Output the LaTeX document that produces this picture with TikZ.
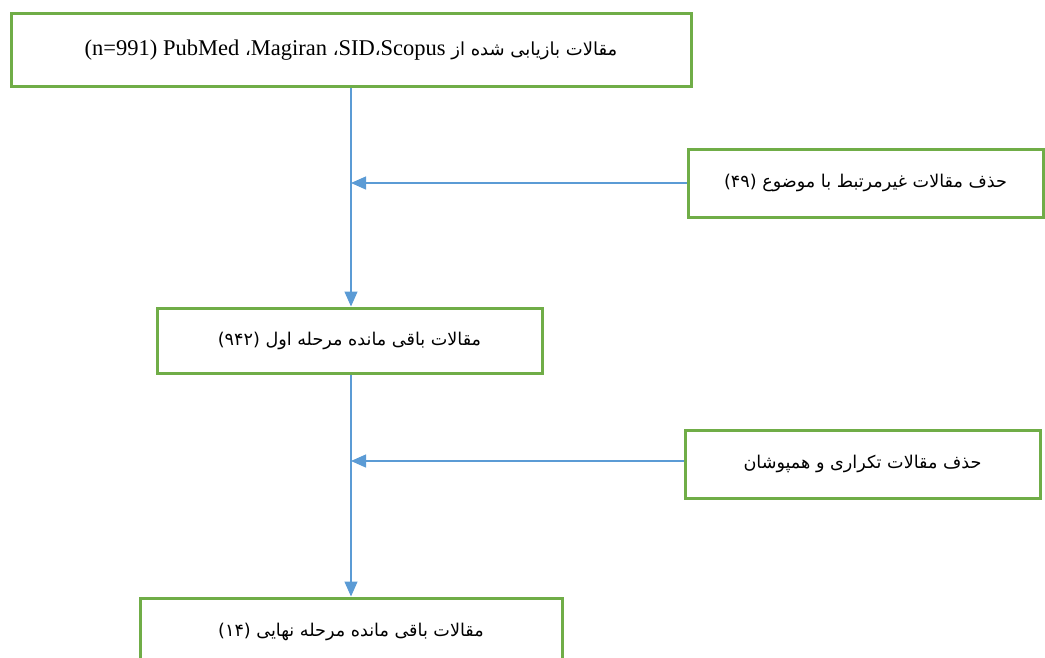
\documentclass[tikz,border=0pt]{standalone}
\usepackage{fontspec}
\setmainfont{Liberation Serif}
\newfontfamily\fa[Script=Arabic]{DejaVu Sans}
\TeXXeTstate=1
\usetikzlibrary{arrows.meta}
\definecolor{boxgreen}{HTML}{70AD47}
\definecolor{arrowblue}{HTML}{5B9BD5}
\newcommand{\lat}[1]{{\fontsize{22.5}{25}\rmfamily\beginL #1\endL}}
\begin{document}
\begin{tikzpicture}[x=1pt,y=-1pt,
  box/.style={draw=boxgreen, line width=3pt, inner sep=0pt, fill=white, align=center},
  conn/.style={draw=arrowblue, line width=1.3pt, -{Triangle[length=15pt,width=13pt,fill=arrowblue]}}]
\useasboundingbox (0,0) rectangle (1045,657);
\node[box, minimum width=680pt, minimum height=73pt] (b1) at (351,50)
  {\fontsize{18}{20}\fa\beginR مقالات بازیابی شده از \lat{Scopus}،\lat{SID}، \lat{Magiran}، \lat{PubMed} \lat{(n=991)}\endR};
\node[box, minimum width=355pt, minimum height=68pt] (b2) at (865.5,183)
  {\fontsize{17.6}{20}\fa\beginR حذف مقالات غیرمرتبط با موضوع (۴۹)\endR};
\node[box, minimum width=385pt, minimum height=65pt] (b3) at (349.5,340.5)
  {\fontsize{17.6}{20}\fa\beginR مقالات باقی مانده مرحله اول (۹۴۲)\endR};
\node[box, minimum width=355pt, minimum height=68pt] (b4) at (862.5,464)
  {\fontsize{17.6}{20}\fa\beginR حذف مقالات تکراری و همپوشان\endR};
\node[box, minimum width=422pt, minimum height=68pt] (b5) at (351,632)
  {\fontsize{17.6}{20}\fa\beginR مقالات باقی مانده مرحله نهایی (۱۴)\endR};
\coordinate (spine) at (351,0);
\draw[conn] (b1.south -| spine) -- (b3.north -| spine);
\draw[conn] (b3.south -| spine) -- (b5.north -| spine);
\draw[conn] (b2.west) -- (b2.west -| spine);
\draw[conn] ([yshift=3pt]b4.west) -- ([yshift=3pt]b4.west -| spine);
\end{tikzpicture}
\end{document}
